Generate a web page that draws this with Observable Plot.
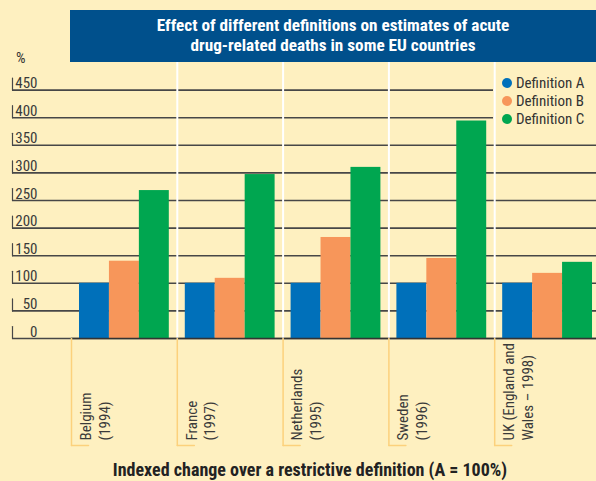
<!DOCTYPE html>
<html><head><meta charset="utf-8">
<script src="https://cdn.jsdelivr.net/npm/d3@7"></script>
<script src="https://cdn.jsdelivr.net/npm/@observablehq/plot@0.6"></script>
<style>
html,body{margin:0;padding:0;background:#FEF0C0;}
#wrap{position:relative;width:596px;height:481px;background:#FEF0C0;overflow:hidden;font-family:'Roboto Condensed',sans-serif;}
#grid,#chart{position:absolute;left:0;top:0;}
#title{position:absolute;left:70px;top:10px;width:526px;height:52px;background:#00508C;color:#fff;font-weight:bold;font-size:17.2px;line-height:20px;text-align:center;padding-top:5px;box-sizing:border-box;}
#legend{position:absolute;left:502px;top:74px;font-size:15px;color:#333;}
.item{height:18px;line-height:18px;display:flex;align-items:center;}
.dot{width:10px;height:10px;border-radius:50%;margin-right:4px;}
#caption{position:absolute;left:0;width:620px;text-align:center;top:459px;font-weight:bold;font-size:18px;color:#222;white-space:nowrap;}
#pct{position:absolute;left:16px;top:49px;font-size:15px;color:#333;}
</style></head><body>
<div id="wrap">
  <div id="grid"></div>
  <div id="chart"></div>
  <div id="title"></div>
  <div id="pct">%</div>
  <div id="legend"></div>
  <div id="caption"></div>
</div>
<script>
const titleText = "Effect of different definitions on estimates of acute<br>drug-related deaths in some EU countries";
const captionText = "Indexed change over a restrictive definition (A = 100%)";
const countries = ["Belgium", "France", "Netherlands", "Sweden", "UK"];
const countryLabels = ["Belgium\n(1994)", "France\n(1997)", "Netherlands\n(1995)", "Sweden\n(1996)", "UK (England and\nWales – 1998)"];
const definitions = ["Definition A", "Definition B", "Definition C"];
const colors = ["#0070BA", "#F7965A", "#00A650"];
const defA = [100, 100, 100, 100, 100];
const defB = [140, 109, 183, 145, 118];
const defC = [268, 297, 310, 394, 138];
const yTicks = [0, 50, 100, 150, 200, 250, 300, 350, 400, 450];

const series = [defA, defB, defC];
const data = countries.flatMap((c, i) => definitions.map((d, j) => ({country: c, def: d, value: series[j][i]})));

document.getElementById("title").innerHTML = titleText;
document.getElementById("caption").textContent = captionText;
const leg = document.getElementById("legend");
definitions.forEach((d, i) => {
  const it = document.createElement("div"); it.className = "item";
  const dot = document.createElement("span"); dot.className = "dot"; dot.style.background = colors[i];
  const t = document.createElement("span"); t.textContent = d;
  it.appendChild(dot); it.appendChild(t); leg.appendChild(it);
});

const lineShape = {draw(context, l) { context.moveTo(0, 0); context.lineTo(0, -l); }};
const font = "'Roboto Condensed',sans-serif";
const gridColor = "#474747";
const common = {
  width: 596, height: 481,
  marginTop: 62, marginBottom: 143, marginLeft: 71, marginRight: 0,
  style: {background: "transparent", fontFamily: font, overflow: "visible"},
  y: {domain: [0, 500], axis: null}
};

const grid = Plot.plot({
  ...common,
  marks: [
    Plot.ruleY(yTicks.filter(t => t < 400), {y: d => d, insetLeft: -59, stroke: gridColor, strokeWidth: 1.6}),
    Plot.ruleY(yTicks.filter(t => t >= 400), {y: d => d, insetLeft: -59, insetRight: 103, stroke: gridColor, strokeWidth: 1.6}),
    Plot.vector(yTicks, {y: d => d, frameAnchor: "left", dx: -59, length: 12, rotate: 0, anchor: "start", shape: lineShape, stroke: gridColor, strokeWidth: 1.2}),
    Plot.text(yTicks, {y: d => d, text: d => String(d), frameAnchor: "left", dx: -34, dy: -2, textAnchor: "end", lineAnchor: "bottom", fontSize: 15, fill: "#3a3a3a"})
  ]
});
document.getElementById("grid").appendChild(grid);

const chart = Plot.plot({
  ...common,
  fx: {domain: countries, range: [71, 600], paddingInner: 0, paddingOuter: 0, round: false, axis: null, label: null},
  x: {domain: definitions, paddingInner: 0, paddingOuter: 0.267, round: false, axis: null, label: null},
  color: {domain: definitions, range: colors},
  marks: [
    Plot.frame({anchor: "right", stroke: "white", strokeWidth: 2}),
    Plot.barY(data, {fx: "country", x: "def", y: "value", fill: "def"}),
    Plot.ruleY([0], {stroke: "#333", strokeWidth: 1.6}),
    Plot.vector(countries, {fx: d => d, frameAnchor: "bottom-left", length: 107, rotate: 180, anchor: "start", shape: lineShape, stroke: "#FCD17C", strokeWidth: 1.5}),
    Plot.vector(countries, {fx: d => d, frameAnchor: "bottom-left", dy: 107, length: 17, rotate: 90, anchor: "start", shape: lineShape, stroke: "#FCD17C", strokeWidth: 1.5}),
    Plot.text(countries, {fx: d => d, text: (d, i) => countryLabels[i], frameAnchor: "bottom-left", dx: 6, dy: 102, rotate: -90, textAnchor: "start", lineAnchor: "top", fontSize: 15, lineHeight: 1.25, fill: "#3a3a3a"})
  ]
});
document.getElementById("chart").appendChild(chart);
</script>
</body></html>
